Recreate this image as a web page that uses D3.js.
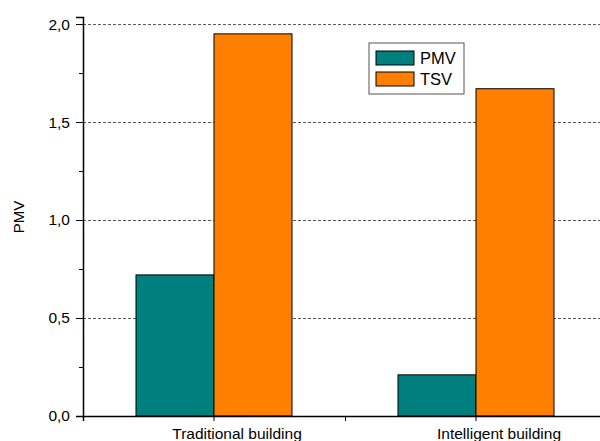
<!DOCTYPE html>
<html><head><meta charset="utf-8">
<script src="https://cdn.jsdelivr.net/npm/d3@7"></script>
<style>body{margin:0;background:#fff}svg{display:block}text{font-family:"Liberation Sans",Arial,sans-serif}</style>
</head><body><svg id="c" width="600" height="441"></svg>
<script>
const categories = ["Traditional building", "Intelligent building"];
const seriesNames = ["PMV", "TSV"];
const pmvValues = [0.72, 0.21];
const tsvValues = [1.95, 1.67];
const yTicks = [0, 0.5, 1.0, 1.5, 2.0];
const yTickLabels = ["0,0", "0,5", "1,0", "1,5", "2,0"];
const colors = {PMV: "#007f7f", TSV: "#ff8000"};

const svg = d3.select("#c");
const x0 = d3.scaleBand().domain(categories).range([83, 607]).paddingInner(0).paddingOuter(0);
const x1 = d3.scaleBand().domain(seriesNames).range([-78, 78]);
const y = d3.scaleLinear().domain([0, 2.036]).range([416, 17]);

// grid
svg.append("g").selectAll("line").data(yTicks.filter(d => d > 0)).join("line")
  .attr("x1", 83).attr("x2", 600).attr("y1", d => y(d) + 0.5).attr("y2", d => y(d) + 0.5)
  .attr("stroke", "#555").attr("stroke-width", 1).attr("stroke-dasharray", "3,2");

// bars
const data = categories.map((c, i) => ({cat: c, vals: [{s: "PMV", v: pmvValues[i]}, {s: "TSV", v: tsvValues[i]}]}));
const grp = svg.append("g").selectAll("g").data(data).join("g")
  .attr("transform", d => `translate(${x0(d.cat) + x0.bandwidth() / 2},0)`);
grp.selectAll("rect").data(d => d.vals).join("rect")
  .attr("x", d => x1(d.s)).attr("width", x1.bandwidth())
  .attr("y", d => y(d.v)).attr("height", d => y(0) - y(d.v))
  .attr("fill", d => colors[d.s]).attr("stroke", "#000").attr("stroke-width", 1);

// y axis
const yAxis = d3.axisLeft(y).tickValues(yTicks).tickSize(7).tickPadding(6)
  .tickFormat((d, i) => yTickLabels[i]);
const ga = svg.append("g").attr("transform", "translate(83,0)").call(yAxis);
ga.select(".domain").attr("stroke-width", 1.5);
ga.selectAll(".tick text").attr("font-size", 15.5).attr("fill", "#000");
const yMinor = d3.axisLeft(y).tickValues([0.25, 0.75, 1.25, 1.75]).tickSize(4).tickFormat("");
const gm = svg.append("g").attr("transform", "translate(83,0)").call(yMinor);
gm.select(".domain").remove();

// x axis
const xAxis = d3.axisBottom(x0).tickSize(5).tickPadding(0);
const gx = svg.append("g").attr("transform", "translate(0,416)").call(xAxis);
gx.select(".domain").attr("stroke-width", 1.5);
gx.selectAll(".tick text").attr("font-size", 15.5).attr("fill", "#000")
  .attr("dy", null).attr("y", 23).attr("dx", 23);
// mid tick between categories
svg.append("g").attr("transform", "translate(0,416)")
  .call(d3.axisBottom(d3.scaleLinear().domain([0, 1]).range([x0(categories[1]), x0(categories[1]) + 1]))
    .tickValues([0]).tickSize(5).tickFormat(""))
  .select(".domain").remove();

// y label
svg.append("text").attr("transform", "translate(24,217) rotate(-90)")
  .attr("text-anchor", "middle").attr("font-size", 15).text("PMV");

// legend
const lg = svg.append("g").attr("transform", "translate(369,43)");
lg.append("rect").attr("width", 95).attr("height", 51).attr("fill", "#fff").attr("stroke", "#555");
seriesNames.forEach((s, i) => {
  lg.append("rect").attr("x", 7).attr("y", 8 + i * 21).attr("width", 38).attr("height", 14)
    .attr("fill", colors[s]).attr("stroke", "#000");
  lg.append("text").attr("x", 51).attr("y", 21 + i * 21).attr("font-size", 16.5).text(s);
});
</script></body></html>
